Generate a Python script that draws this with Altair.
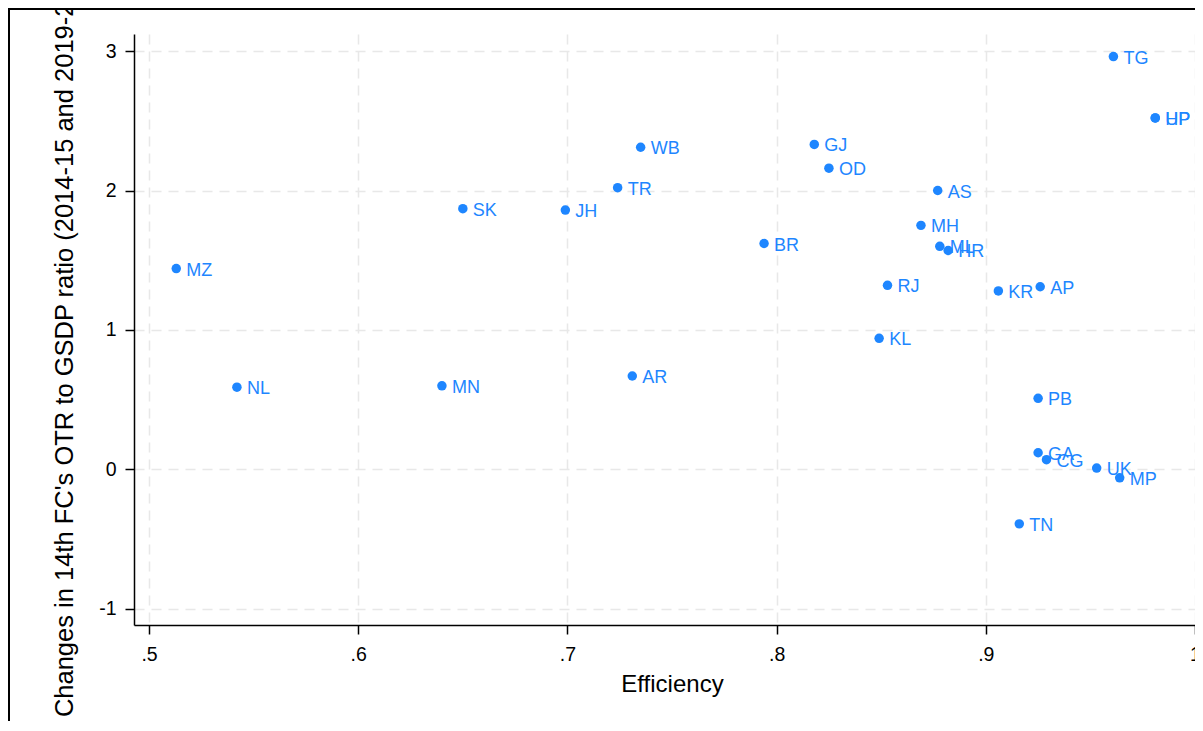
import altair as alt
import pandas as pd

# ---- data ----
states = ["MZ", "NL", "MN", "SK", "JH", "TR", "WB", "AR", "BR", "GJ", "OD", "KL", "RJ", "MH",
          "AS", "ML", "HR", "KR", "AP", "TG", "UP", "HP", "PB", "GA", "CG", "UK", "MP", "TN"]
efficiency = [0.513, 0.542, 0.640, 0.650, 0.699, 0.724, 0.735, 0.731, 0.794, 0.818, 0.825, 0.849,
              0.853, 0.869, 0.877, 0.878, 0.882, 0.906, 0.926, 0.961, 0.981, 0.981, 0.925, 0.925,
              0.929, 0.953, 0.964, 0.916]
otr_change = [1.44, 0.59, 0.60, 1.87, 1.86, 2.02, 2.31, 0.67, 1.62, 2.33, 2.16, 0.94, 1.32, 1.75,
              2.00, 1.60, 1.57, 1.28, 1.31, 2.96, 2.52, 2.52, 0.51, 0.12, 0.07, 0.01, -0.06, -0.39]
x_ticks = [0.5, 0.6, 0.7, 0.8, 0.9, 1.0]
y_ticks = [-1, 0, 1, 2, 3]
x_title = "Efficiency"
y_title = "Changes in 14th FC's OTR to GSDP ratio (2014-15 and 2019-20)"

df = pd.DataFrame({"state": states, "eff": efficiency, "chg": otr_change})

W = 1061
H = 591
BLUE = "#1e86ff"
FONT = "Liberation Sans"

x_scale = alt.Scale(domain=[0.4928, 1.0], nice=False, zero=False)
y_scale = alt.Scale(domain=[-1.115, 3.122], nice=False, zero=False)

x_axis = alt.Axis(
    values=x_ticks,
    labelExpr="replace(format(datum.value, '.1~f'), '0.', '.')",
    title=x_title,
    titleX=538, titleY=66, titleAlign="center", titleBaseline="alphabetic",
    titleFontSize=24, labelPadding=11,
)
y_axis = alt.Axis(
    values=y_ticks,
    labelExpr="'' + datum.value",
    title=y_title,
    titleAngle=270, titleX=-62, titleY=314, titleAlign="center", titleBaseline="alphabetic",
    titleFontSize=25.5, labelPadding=9,
)

base = alt.Chart(df).encode(
    x=alt.X("eff:Q", scale=x_scale, axis=x_axis),
    y=alt.Y("chg:Q", scale=y_scale, axis=y_axis),
)

points = base.mark_point(filled=True, shape="circle", size=90, color=BLUE, opacity=1)
labels = base.mark_text(align="left", baseline="middle", dx=10, dy=2, font=FONT,
                        fontSize=18, color=BLUE).encode(text="state:N")

one = pd.DataFrame({"a": [0]})
frame_left = alt.Chart(one).mark_rule(color="black", strokeWidth=2).encode(
    x=alt.value(-125), y=alt.value(-26), y2=alt.value(H + 96))
frame_top = alt.Chart(one).mark_rule(color="black", strokeWidth=2).encode(
    y=alt.value(-25), x=alt.value(-126), x2=alt.value(W))

chart = alt.layer(points, labels, frame_left, frame_top).properties(
    width=W, height=H,
    padding={"left": 126, "top": 26, "right": 0, "bottom": 96},
    autosize=alt.AutoSizeParams(type="none"),
    background="white",
).configure_view(
    stroke="transparent",
).configure_axis(
    domainColor="black", domainWidth=1.5,
    tickColor="black", tickWidth=1.5, tickSize=9,
    labelFont=FONT, labelFontSize=19.5, labelColor="black",
    titleFont=FONT, titleColor="black", titleFontWeight="normal",
    grid=True, gridColor="#e8e8e8", gridDash=[10, 7], gridWidth=1.5,
    labelFlush=False, labelOverlap=False,
)

chart.save("out.html", embed_options={"renderer": "svg", "actions": False})
